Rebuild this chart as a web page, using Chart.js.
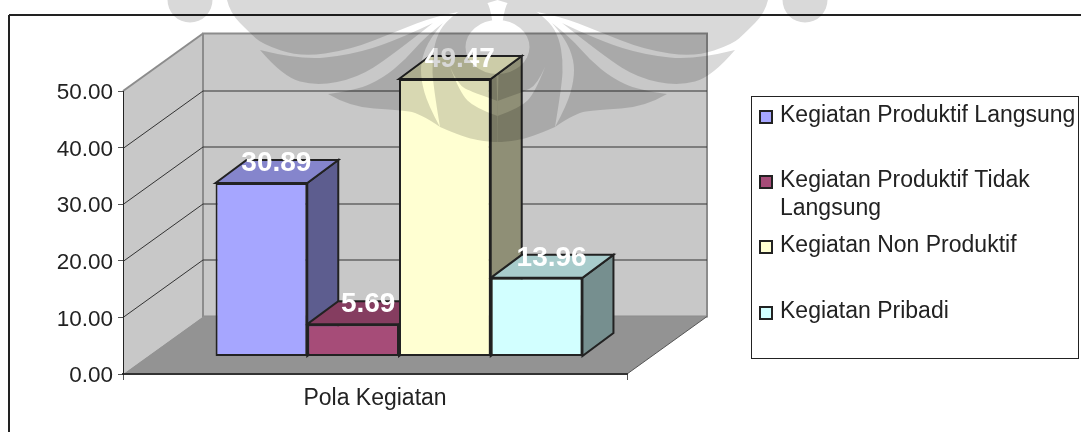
<!DOCTYPE html>
<html>
<head>
<meta charset="utf-8">
<title>Pola Kegiatan</title>
<script src="https://cdn.jsdelivr.net/npm/chart.js@4/dist/chart.umd.min.js"></script>
<style>
  html, body { margin: 0; padding: 0; background: #fff; }
  canvas { display: block; }
</style>
</head>
<body>
<canvas id="chart" width="1081" height="432"></canvas>
<script>
const categories = ['Pola Kegiatan'];
const seriesNames = ['Kegiatan Produktif Langsung', 'Kegiatan Produktif Tidak Langsung', 'Kegiatan Non Produktif', 'Kegiatan Pribadi'];
const seriesValues = [30.89, 5.69, 49.47, 13.96];
const seriesColors = [[166, 166, 255], [166, 76, 120], [255, 255, 210], [210, 255, 255]];
const yTicks = [0, 10, 20, 30, 40, 50];

const fontName = '"Liberation Sans", Arial, sans-serif';
const textColor = '#222';

// 3d look: wall depth, and how far the bars sit inside the floor
const wallDepth = { x: 80, y: -57.5 };
const barShift = { x: 24, y: -18 };
const barDepth = { x: 31, y: -23 };

function rgb(c, k) {
  return `rgb(${Math.round(c[0] * k)},${Math.round(c[1] * k)},${Math.round(c[2] * k)})`;
}

function poly(ctx, pts, fill, stroke, width) {
  ctx.beginPath();
  pts.forEach((p, i) => i ? ctx.lineTo(p[0], p[1]) : ctx.moveTo(p[0], p[1]));
  ctx.closePath();
  if (fill) { ctx.fillStyle = fill; ctx.fill(); }
  if (stroke) { ctx.strokeStyle = stroke; ctx.lineWidth = width; ctx.stroke(); }
}

function line(ctx, x1, y1, x2, y2, color, width) {
  ctx.beginPath();
  ctx.moveTo(x1, y1);
  ctx.lineTo(x2, y2);
  ctx.strokeStyle = color;
  ctx.lineWidth = width;
  ctx.stroke();
}

// frame, walls, floor and gridlines go under the axes
const wallsPlugin = {
  id: 'walls',
  beforeDraw(chart) {
    const ctx = chart.ctx;
    const y = chart.scales.y;
    const a = chart.chartArea;
    const dx = wallDepth.x, dy = wallDepth.y;
    ctx.save();
    line(ctx, 9, 15, 1081, 15, '#222', 2);
    line(ctx, 9, 15, 9, 432, '#222', 2);

    poly(ctx, [[a.left, a.top], [a.left + dx, a.top + dy], [a.left + dx, a.bottom + dy], [a.left, a.bottom]], '#c8c8c8');
    poly(ctx, [[a.left + dx, a.top + dy], [a.right + dx, a.top + dy], [a.right + dx, a.bottom + dy], [a.left + dx, a.bottom + dy]], '#c8c8c8', '#8c8c8c', 2);
    line(ctx, a.left, a.top, a.left + dx, a.top + dy, '#8c8c8c', 2);
    poly(ctx, [[a.left, a.bottom], [a.right, a.bottom], [a.right + dx, a.bottom + dy], [a.left + dx, a.bottom + dy]], '#939393');
    line(ctx, a.right, a.bottom, a.right + dx, a.bottom + dy, '#555', 1);

    yTicks.slice(1, -1).forEach(t => {
      const py = Math.round(y.getPixelForValue(t)) + 0.5;
      line(ctx, a.left, py, a.left + dx, py + dy, '#333', 1);
      line(ctx, a.left + dx, py + dy, a.right + dx, py + dy, '#333', 1);
    });
    ctx.restore();
  },
  // side and top faces first, left to right, the library then paints the fronts
  beforeDatasetsDraw(chart) {
    const ctx = chart.ctx;
    ctx.save();
    ctx.translate(barShift.x, barShift.y);
    seriesValues.forEach((v, i) => {
      const bar = chart.getDatasetMeta(i).data[0];
      const l = bar.x - bar.width / 2, r = bar.x + bar.width / 2;
      const t = bar.y, b = bar.base;
      const dx = barDepth.x, dy = barDepth.y;
      poly(ctx, [[r, t], [r + dx, t + dy], [r + dx, b + dy], [r, b]], rgb(seriesColors[i], 0.56), '#222', 2);
      poly(ctx, [[l, t], [l + dx, t + dy], [r + dx, t + dy], [r, t]], rgb(seriesColors[i], 0.8), '#222', 2);
    });
  },
  afterDatasetsDraw(chart) {
    const ctx = chart.ctx;
    ctx.restore();
    ctx.save();
    ctx.font = `bold 28px ${fontName}`;
    ctx.fillStyle = '#fff';
    ctx.textAlign = 'center';
    ctx.textBaseline = 'middle';
    seriesValues.forEach((v, i) => {
      const bar = chart.getDatasetMeta(i).data[0];
      ctx.fillText(v.toFixed(2), bar.x + barShift.x + 15, bar.y + barShift.y - 20);
    });
    ctx.restore();
  }
};

function wrapText(ctx, text, maxWidth) {
  const lines = [];
  let cur = '';
  text.split(' ').forEach(word => {
    const next = cur ? cur + ' ' + word : word;
    if (cur && ctx.measureText(next).width > maxWidth) {
      lines.push(cur);
      cur = word;
    } else {
      cur = next;
    }
  });
  lines.push(cur);
  return lines;
}

// legend box with its uneven rows
const legendRows = [116, 181, 246, 312];
const legendPlugin = {
  id: 'boxLegend',
  afterDraw(chart) {
    const ctx = chart.ctx;
    ctx.save();
    ctx.strokeStyle = '#222';
    ctx.lineWidth = 1;
    ctx.strokeRect(751.5, 96.5, 327, 262);
    ctx.font = `23px ${fontName}`;
    ctx.textBaseline = 'middle';
    seriesNames.forEach((name, i) => {
      const y = legendRows[i];
      ctx.fillStyle = rgb(seriesColors[i], 1);
      ctx.fillRect(760, y - 5, 12, 12);
      ctx.strokeStyle = '#222';
      ctx.lineWidth = 2;
      ctx.strokeRect(760, y - 5, 12, 12);
      ctx.fillStyle = textColor;
      wrapText(ctx, name, 296).forEach((text, n) => ctx.fillText(text, 780, y + n * 28));
    });
    ctx.restore();
  }
};

// faint university logo lying over the whole page, left half gets mirrored.
// each shape is a list of smooth runs, corners sit where two runs meet
const markAxis = 497.5;
const markShapes = [
  [[[227, 0], [230, 13], [250, 33], [262, 44], [300, 57], [350, 50], [400, 30], [433, 17], [458, 12]], [[458, 12], [497.5, 0]]],
  [[[260, 50], [300, 60], [350, 55], [395, 41], [433, 23]], [[433, 23], [390, 57], [357, 78], [317, 86], [283, 77], [260, 50]]],
  [[[328, 94], [357, 90], [383, 78], [405, 60], [425, 37], [443, 23]], [[443, 23], [430, 38], [421, 60], [421, 80], [428, 105], [440, 127]], [[440, 127], [420, 113], [398, 110], [350, 107], [328, 94]]],
  [[[458, 12], [445, 22], [436, 38], [432, 60], [433, 85], [440, 127]], [[440, 127], [465, 138], [490, 142], [497.5, 142]], [[497.5, 142], [497.5, 0], [470, 0], [458, 12]]]
];
const markHole = [[[450, 67], [460, 93], [475, 108], [497.5, 116]], [[497.5, 116], [497.5, 101]], [[497.5, 101], [472, 92], [458, 85], [450, 67]]];

function markPath(c, runs, flip) {
  const fx = x => flip ? 2 * markAxis - x : x;
  c.beginPath();
  c.moveTo(fx(runs[0][0][0]), runs[0][0][1]);
  runs.forEach(run => {
    for (let i = 1; i < run.length - 1; i++) {
      const mx = (run[i][0] + run[i + 1][0]) / 2, my = (run[i][1] + run[i + 1][1]) / 2;
      if (i === run.length - 2) {
        c.quadraticCurveTo(fx(run[i][0]), run[i][1], fx(run[i + 1][0]), run[i + 1][1]);
      } else {
        c.quadraticCurveTo(fx(run[i][0]), run[i][1], fx(mx), my);
      }
    }
    if (run.length === 2) c.lineTo(fx(run[1][0]), run[1][1]);
  });
  c.closePath();
}

const watermarkPlugin = {
  id: 'watermark',
  afterDraw(chart) {
    const off = document.createElement('canvas');
    off.width = chart.width;
    off.height = chart.height;
    const c = off.getContext('2d');
    c.fillStyle = '#000';
    [false, true].forEach(flip => {
      markShapes.forEach(s => { markPath(c, s, flip); c.fill(); });
      c.beginPath();
      c.arc(flip ? 805 : 190, 0, 22.5, 0, Math.PI * 2);
      c.fill();
    });
    c.globalCompositeOperation = 'destination-out';
    [false, true].forEach(flip => { markPath(c, markHole, flip); c.fill(); });
    c.beginPath();
    c.ellipse(markAxis, 47, 32, 27, 0, 0, Math.PI * 2);
    c.fill();
    const ctx = chart.ctx;
    ctx.save();
    ctx.globalAlpha = 0.15;
    ctx.drawImage(off, 0, 0);
    ctx.restore();
  }
};

new Chart(document.getElementById('chart'), {
  type: 'bar',
  data: {
    labels: categories,
    datasets: seriesNames.map((name, i) => ({
      label: name,
      data: [seriesValues[i]],
      yAxisID: 'yBar',
      backgroundColor: rgb(seriesColors[i], 1),
      borderColor: '#222',
      borderWidth: 2,
      borderSkipped: false,
      barPercentage: 1,
      categoryPercentage: 0.728
    }))
  },
  options: {
    responsive: false,
    animation: false,
    layout: { padding: { top: 91, right: 454, left: 0, bottom: 0 } },
    plugins: { legend: { display: false }, tooltip: { enabled: false } },
    scales: {
      x: {
        afterFit: s => { s.height = 58; },
        border: { color: '#333', width: 2 },
        grid: { drawOnChartArea: false, color: '#555', tickLength: 6, offset: true },
        ticks: { color: textColor, font: { family: fontName, size: 23 }, padding: 5 }
      },
      y: {
        min: 0,
        max: 50,
        afterFit: s => { s.width = 123; },
        afterBuildTicks: s => { s.ticks = yTicks.map(v => ({ value: v })); },
        border: { color: '#222', width: 1 },
        grid: { drawOnChartArea: false, color: '#555', tickLength: 5 },
        ticks: { color: textColor, padding: 5, labelOffset: 2, font: { family: fontName, size: 22.5 }, callback: v => v.toFixed(2) }
      },
      // the bars stand a bit further back so their scale runs slightly short of the axis
      yBar: { display: false, min: 0, max: 50.54 }
    }
  },
  plugins: [wallsPlugin, legendPlugin, watermarkPlugin]
});
</script>
</body>
</html>
